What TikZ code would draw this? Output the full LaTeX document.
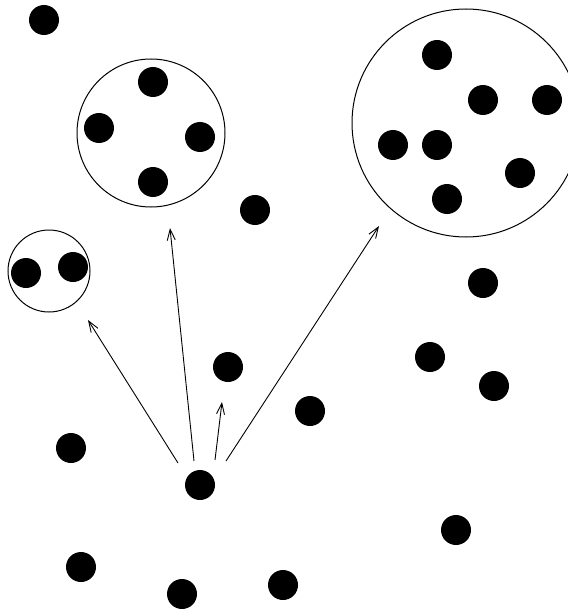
\documentclass[tikz,border=0pt]{standalone}
\usetikzlibrary{arrows.meta}
\tikzset{
  pointdot/.style={circle,fill=black,inner sep=0pt,minimum size=30pt},
  groupring/.style={draw=black,line width=1pt},
  grouparrow/.style={-{Straight Barb[length=11pt,width=8pt]},line width=0.9pt}
}
\begin{document}
\begin{tikzpicture}[x=1pt,y=-1pt]
  \useasboundingbox (0,0) rectangle (567,615);
  % groups
  \draw[groupring] (49,271) circle (41);
  \draw[groupring] (151,133) circle (74);
  \draw[groupring] (466,123) circle (114);
  % points
  \foreach \name/\px/\py in {
      p1/44/20, p2/153/82, p3/99/128, p4/200/137, p5/153/182,
      p6/255/210, p7/437/55, p8/483/100, p9/547/100, p10/393/145,
      p11/437/145, p12/520/173, p13/447/199, p14/26/273, p15/73/267,
      p16/483/283, p17/228/367, p18/430/357, p19/494/386, p20/310/411,
      p21/71/448, src/200/485, p23/456/530, p24/81/567, p25/182/594,
      p26/283/585}
    \node[pointdot] (\name) at (\px,\py) {};
  % arrows from the source point
  \coordinate (a1) at (178,463);
  \coordinate (b1) at (88,320);
  \coordinate (a2) at (194,461);
  \coordinate (b2) at (170,228);
  \coordinate (a3) at (215,460);
  \coordinate (b3) at (222,402);
  \coordinate (a4) at (226,461);
  \coordinate (b4) at (379,226);
  \draw[grouparrow] (a1) -- (b1);
  \draw[grouparrow] (a2) -- (b2);
  \draw[grouparrow] (a3) -- (b3);
  \draw[grouparrow] (a4) -- (b4);
\end{tikzpicture}
\end{document}
